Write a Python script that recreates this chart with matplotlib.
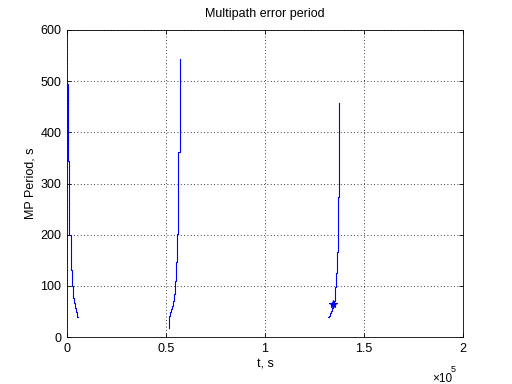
import matplotlib
matplotlib.use("Agg")
import matplotlib.pyplot as plt

# Segment 1 (decreasing)
t1 = [0, 600, 1200, 1900, 2400, 2900, 3400, 3900, 4400, 4900, 5200, 5400]
p1 = [494, 343, 199, 131, 100, 77, 66, 56, 49, 45, 40, 40]

# Segment 2 (increasing)
t2 = [51670, 51670, 52170, 52680, 53180, 53690, 54190, 54700, 55200, 55710, 56210, 57070]
p2 = [18, 41, 48, 54, 61, 71, 84, 109, 146, 202, 361, 543]

# Segment 3 (increasing)
t3 = [131970, 132475, 132980, 133485, 133990, 134495, 134850, 135202, 135707, 136212, 136869, 137525]
p3 = [39, 42, 46, 51, 57, 64, 71, 97, 125, 166, 273, 458]

star_t = [134495]
star_p = [64]

xticks = [0, 50000, 100000, 150000, 200000]
xticklabels = ["0", "0.5", "1", "1.5", "2"]
yticks = [0, 100, 200, 300, 400, 500, 600]

plt.rcParams['font.family'] = ['Liberation Sans', 'DejaVu Sans']
fig = plt.figure(figsize=(5.12, 3.84), dpi=100)
ax = fig.add_axes([67/512, 47/384, 396/512, 307/384])

blue = (0, 0, 1)
ax.plot(t1, p1, color=blue, lw=0.8, drawstyle='steps-post')
ax.plot(t2, p2, color=blue, lw=0.8, drawstyle='steps-post')
ax.plot(t3, p3, color=blue, lw=0.8, drawstyle='steps-post')
ax.plot(star_t, star_p, marker='*', color=blue, ms=6, ls='none', markeredgewidth=0.8)

ax.set_xlim(0, 200000)
ax.set_ylim(0, 600)
ax.set_xticks(xticks)
ax.set_xticklabels(xticklabels)
ax.set_yticks(yticks)
ax.tick_params(direction='in', length=3, width=0.6, labelsize=9, top=True, right=True, pad=4)
for s in ax.spines.values():
    s.set_linewidth(0.6)
ax.grid(True, color='black', linestyle=(0, (1, 3)), linewidth=0.6)

ax.set_title("Multipath error period", fontsize=9, pad=9)
ax.set_xlabel("t, s", fontsize=9, labelpad=3)
ax.set_ylabel("MP Period, s", fontsize=9, labelpad=2.5)
fig.text(432/512, 1 - 382/384, "\u00d710", fontsize=8.5, ha='left', va='baseline')
fig.text(451/512, 1 - 372/384, "5", fontsize=6.5, ha='left', va='baseline')

fig.savefig("out.png", dpi=100, facecolor='white')
